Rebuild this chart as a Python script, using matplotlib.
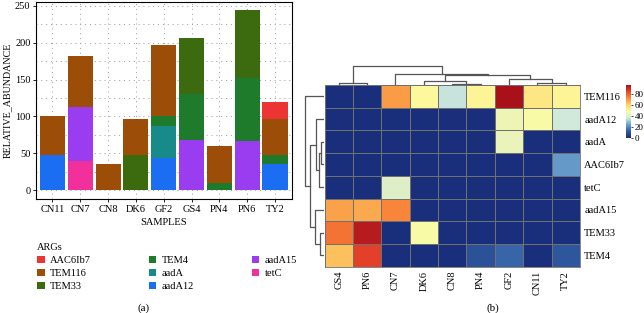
import numpy as np
import matplotlib
matplotlib.use("Agg")
import matplotlib.pyplot as plt
from matplotlib.patches import Patch
from matplotlib.colors import LinearSegmentedColormap

plt.rcParams['font.family'] = ['Liberation Serif', 'DejaVu Serif']

# samples in bar chart order
samples = ["CN11", "CN7", "CN8", "DK6", "GF2", "GS4", "PN4", "PN6", "TY2"]

# abundance of each gene per sample (same order as samples)
AAC6Ib7 = [0, 0, 0, 0, 0, 0, 0, 0, 23]
TEM116 = [54, 69, 35, 49, 96, 0, 50, 0, 50]
TEM33 = [0, 0, 0, 47, 0, 76, 0, 93, 0]
TEM4 = [0, 0, 0, 0, 14, 63, 10, 85, 11]
aadA = [0, 0, 0, 0, 43, 0, 0, 0, 0]
aadA12 = [47, 0, 0, 0, 44, 0, 0, 0, 36]
aadA15 = [0, 73, 0, 0, 0, 68, 0, 67, 0]
tetC = [0, 40, 0, 0, 0, 0, 0, 0, 0]

genes = ["AAC6Ib7", "TEM116", "TEM33", "TEM4", "aadA", "aadA12", "aadA15", "tetC"]
values = {"AAC6Ib7": AAC6Ib7, "TEM116": TEM116, "TEM33": TEM33, "TEM4": TEM4,
          "aadA": aadA, "aadA12": aadA12, "aadA15": aadA15, "tetC": tetC}
colors = {"AAC6Ib7": "#ec3434", "TEM116": "#9c4d08", "TEM33": "#3b6b0e", "TEM4": "#1f7b2c",
          "aadA": "#198a8a", "aadA12": "#1b6ef2", "aadA15": "#9a3cf0", "tetC": "#f2309c"}

# heatmap orders (from clustering in the figure)
hm_rows = ["TEM116", "aadA12", "aadA", "AAC6Ib7", "tetC", "aadA15", "TEM33", "TEM4"]
hm_cols = ["GS4", "PN6", "CN7", "DK6", "CN8", "PN4", "GF2", "CN11", "TY2"]

# dendrogram merges: (left, right, height)  new node ids continue after leaves
col_links = [(0, 1, 2), (4, 5, 1.5), (7, 8, 2), (3, 10, 4.5), (6, 11, 6),
             (12, 13, 10), (2, 14, 11.3), (9, 15, 18.7)]
row_links = [(2, 3, 3), (8, 4, 5), (1, 9, 8.5), (6, 7, 4.5), (5, 11, 9),
             (10, 12, 14.5), (0, 13, 20)]

W, H = 644, 313
fig = plt.figure(figsize=(W / 100, H / 100), dpi=100)


def box(x0, y0, x1, y1):
    # pixel box -> figure fraction
    return [x0 / W, 1 - y1 / H, (x1 - x0) / W, (y1 - y0) / H]


# ---- (a) stacked bars ----
ax = fig.add_axes(box(36, 2, 291.7, 199.3))
x = np.arange(len(samples))
bottom = np.zeros(len(samples))
for g in reversed(genes):
    v = np.array(values[g], dtype=float)
    ax.bar(x, v, 0.9, bottom=bottom, color=colors[g], zorder=2)
    bottom += v
ax.set_xlim(-0.59, 8.6)
ax.set_ylim(-12.6, 255.4)
ax.set_xticks(x)
ax.set_xticklabels(samples, fontsize=7.5)
ax.set_yticks([0, 50, 100, 150, 200, 250])
ax.set_yticks([25, 75, 125, 175, 225], minor=True)
ax.tick_params(axis='y', labelsize=7.5, length=2, width=0.6, pad=2)
ax.tick_params(axis='y', which='minor', length=0)
ax.tick_params(axis='x', length=2, width=0.6, pad=2)
ax.grid(True, which='both', color='#999999', linestyle=(0, (1, 4)), linewidth=0.7, zorder=0)
ax.set_axisbelow(True)
for s in ax.spines.values():
    s.set_linewidth(0.8)
ax.set_xlabel("SAMPLES", fontsize=7.5, labelpad=3)
ax.set_ylabel("RELATIVE_ABUNDANCE", fontsize=7.2, labelpad=2)

handles = [Patch(facecolor=colors[g], label=g) for g in genes]
leg = fig.legend(handles=handles, title="ARGs", ncol=3, loc='upper left',
                 bbox_to_anchor=(30 / W, 1 - 236 / H), frameon=False, fontsize=7.5,
                 title_fontsize=7.5, handlelength=0.7, handleheight=0.7,
                 handletextpad=0.5, columnspacing=5.6, labelspacing=0.35,
                 borderpad=0.2)
leg._legend_box.align = "left"

fig.text(144 / W, 1 - 308 / H, "(a)", fontsize=8, ha='center', va='center')
fig.text(493 / W, 1 - 308 / H, "(b)", fontsize=8, ha='center', va='center')

# ---- (b) heatmap ----
M = np.array([[values[g][samples.index(s)] for s in hm_cols] for g in hm_rows], dtype=float)
cmap = LinearSegmentedColormap.from_list("hm", ['#1a2f7c', '#2f5aa0', '#6a9fcb', '#cfe9dc',
                                                '#fdfba0', '#fdd36a', '#f98b3a', '#e8452a',
                                                '#a8101a'])
hx0, hy0, hx1, hy1 = 324.5, 85, 580, 266.7
hax = fig.add_axes(box(hx0, hy0, hx1, hy1))
mesh = hax.pcolormesh(np.arange(len(hm_cols) + 1), np.arange(len(hm_rows) + 1), M,
                      cmap=cmap, vmin=0, vmax=96, edgecolors='#707070', linewidth=0.6)
hax.set_xlim(0, len(hm_cols))
hax.set_ylim(len(hm_rows), 0)
hax.set_xticks(np.arange(len(hm_cols)) + 0.5)
hax.set_xticklabels(hm_cols, rotation=90, fontsize=7.5)
hax.yaxis.tick_right()
hax.set_yticks(np.arange(len(hm_rows)) + 0.5)
hax.set_yticklabels(hm_rows, fontsize=7.5)
hax.tick_params(length=0, pad=3)
for s in hax.spines.values():
    s.set_edgecolor('#707070')
    s.set_linewidth(0.6)


def draw_dendro(axd, links, n, vertical):
    pos = {i: i + 0.5 for i in range(n)}
    hgt = {i: 0.0 for i in range(n)}
    node = n
    for a, b, h in links:
        xs = [pos[a], pos[a], pos[b], pos[b]]
        ys = [hgt[a], h, h, hgt[b]]
        if vertical:
            axd.plot(xs, ys, color='#555555', lw=0.9)
        else:
            axd.plot(ys, xs, color='#555555', lw=0.9)
        pos[node] = (pos[a] + pos[b]) / 2
        hgt[node] = h
        node += 1


cax_d = fig.add_axes(box(hx0, 62, hx1, hy0))
draw_dendro(cax_d, col_links, len(hm_cols), True)
cax_d.set_xlim(0, len(hm_cols))
cax_d.set_ylim(0, hy0 - 62)
cax_d.axis('off')

rax_d = fig.add_axes(box(300, hy0, hx0, hy1))
draw_dendro(rax_d, row_links, len(hm_rows), False)
rax_d.set_ylim(len(hm_rows), 0)
rax_d.set_xlim(hx0 - 300, 0)
rax_d.axis('off')

cbax = fig.add_axes(box(626, 85, 631, 138))
cb = fig.colorbar(mesh, cax=cbax, ticks=[0, 20, 40, 60, 80])
cb.outline.set_visible(False)
cb.ax.tick_params(labelsize=6.5, length=1.5, width=0.5, pad=1)

fig.savefig("out.png", dpi=100)
